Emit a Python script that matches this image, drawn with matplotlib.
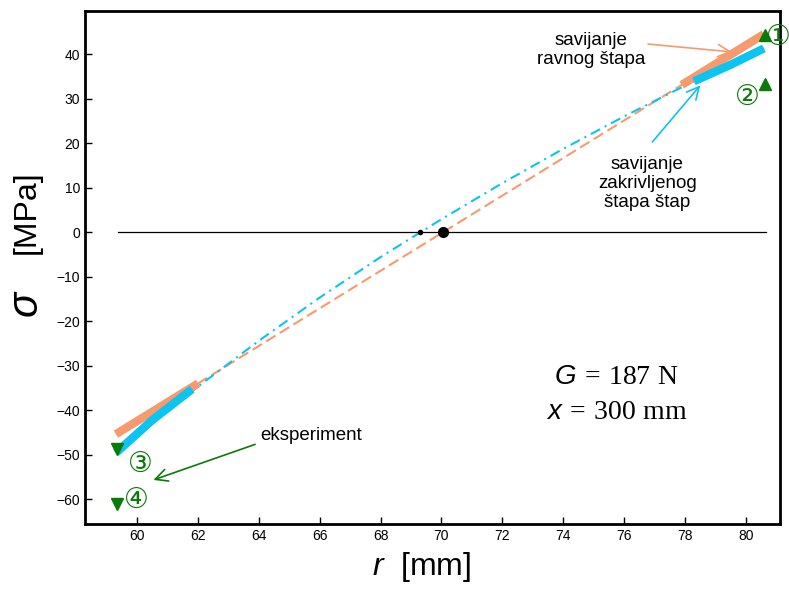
import matplotlib
matplotlib.use('Agg')
import matplotlib.pyplot as plt

plt.rcParams['font.family'] = ['Liberation Sans', 'DejaVu Sans', 'Noto Sans CJK SC']
plt.rcParams['mathtext.fontset'] = 'custom'
plt.rcParams['mathtext.rm'] = 'Liberation Serif'
plt.rcParams['mathtext.it'] = 'Liberation Sans:italic'

# straight beam (linear distribution)
r_ravni = [59.3, 80.6]
s_ravni = [-45.4, 44.5]
r_ravni_left = [59.3, 62.0]
s_ravni_left = [-45.4, -34.0]
r_ravni_right = [77.9, 80.6]
s_ravni_right = [33.1, 44.5]

# curved beam (hyperbolic distribution)
r_zakr = [59.3, 62, 64, 66, 68, 70, 72, 74, 76, 78, 80.6]
s_zakr = [-49.6, -34.7, -24.4, -14.7, -5.6, 2.9, 11.0, 18.7, 26.0, 32.9, 41.3]
r_zakr_left = [59.3, 60.5, 61.8]
s_zakr_left = [-49.6, -42.2, -35.3]
r_zakr_right = [78.3, 79.5, 80.6]
s_zakr_right = [33.9, 37.6, 41.3]

# neutral axes
r_neutral_ravni = 70.05
r_neutral_zakr = 69.3

# experiment
r_exp_up = [80.64, 80.64]
s_exp_up = [44.3, 33.4]
r_exp_down = [59.32, 59.32]
s_exp_down = [-48.8, -61.1]
exp_labels = ['\u2460', '\u2461', '\u2462', '\u2463']
exp_label_pos = [(81.08, 43.9), (80.05, 30.3), (60.09, -52.0), (59.98, -60.1)]

orange = '#F79A6E'
blue = '#0BC4F2'
green = '#0A7A0A'

fig = plt.figure(figsize=(7.89, 5.89), dpi=100)
ax = fig.add_axes([0.1077, 0.1104, 0.8809, 0.8709])

ax.plot([59.37, 80.67], [0, 0], color='black', lw=0.9, zorder=1)

ax.plot(r_ravni, s_ravni, color=orange, lw=1.5, dashes=(5.3, 2.4), zorder=2)
ax.plot(r_zakr, s_zakr, color=blue, lw=1.5, dashes=(5, 2.5, 1, 2.5), zorder=3)

ax.plot(r_ravni_left, s_ravni_left, color=orange, lw=6, solid_capstyle='butt', zorder=4)
ax.plot(r_ravni_right, s_ravni_right, color=orange, lw=6, solid_capstyle='butt', zorder=4)
ax.plot(r_zakr_left, s_zakr_left, color=blue, lw=6, solid_capstyle='butt', zorder=5)
ax.plot(r_zakr_right, s_zakr_right, color=blue, lw=6, solid_capstyle='butt', zorder=5)

ax.plot([r_neutral_ravni], [0], 'o', color='black', ms=7, zorder=6)
ax.plot([r_neutral_zakr], [0], 'o', color='black', ms=3, zorder=6)

ax.plot(r_exp_up, s_exp_up, '^', color=green, ms=8, zorder=7, clip_on=False)
ax.plot(r_exp_down, s_exp_down, 'v', color=green, ms=8, zorder=7, clip_on=False)
for lab, (x, y) in zip(exp_labels, exp_label_pos):
    ax.text(x, y, lab, color=green, fontsize=20, ha='center', va='center',
            family=['DejaVu Sans', 'Noto Sans CJK SC'], zorder=8, clip_on=False)

# annotations
ax.annotate('savijanje\nravnog štapa', xy=(79.55, 40.5), xytext=(74.92, 40.9),
            fontsize=13.5, ha='center', va='center', linespacing=1.15,
            arrowprops=dict(arrowstyle='->', color=orange, lw=1.2,
                            mutation_scale=22, shrinkA=0, shrinkB=0,
                            relpos=(0.85, 0.72)))
ax.annotate('savijanje\nzakrivljenog\nštapa štap', xy=(78.51, 33.0), xytext=(76.77, 11.0),
            fontsize=13.5, ha='center', va='center', linespacing=1.15,
            arrowprops=dict(arrowstyle='->', color=blue, lw=1.2,
                            mutation_scale=22, shrinkA=0, shrinkB=0,
                            relpos=(0.55, 1.25)))
ax.annotate('eksperiment', xy=(60.53, -55.7), xytext=(64.04, -45.8),
            fontsize=13.5, ha='left', va='center',
            arrowprops=dict(arrowstyle='->', color=green, lw=1.2,
                            mutation_scale=22, shrinkA=0, shrinkB=0,
                            relpos=(-0.05, 0.0)))

ax.text(75.76, -32.5, r'$G\,=\,187\ \mathrm{N}$', fontsize=20, ha='center', va='center')
ax.text(75.76, -40.4, r'$x\,=\,300\ \mathrm{mm}$', fontsize=20, ha='center', va='center')

ax.set_xlim(58.28, 81.13)
ax.set_ylim(-65.6, 49.7)
ax.set_xticks(range(60, 81, 2))
ax.set_yticks(range(-60, 41, 10))
ax.tick_params(direction='in', length=5, width=1, labelsize=10, top=False, right=False)
for s in ax.spines.values():
    s.set_linewidth(2)

fig.text(0.034, 0.64, '[MPa]', fontsize=23, rotation=90, ha='center', va='center')
fig.text(0.034, 0.485, r'$\sigma$', fontsize=30, rotation=90, ha='center', va='center')
fig.text(0.535, 0.037, r'$r$  [mm]', fontsize=23, ha='center', va='center')

fig.savefig('out.png', dpi=100)
